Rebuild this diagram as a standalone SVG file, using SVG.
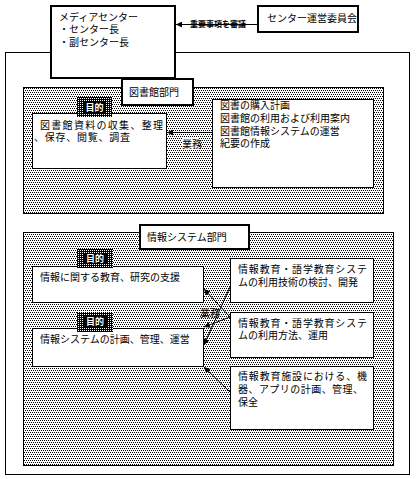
<svg xmlns="http://www.w3.org/2000/svg" width="416" height="479" viewBox="0 0 416 479">
<defs>
<pattern id="dots" width="4" height="4" patternUnits="userSpaceOnUse">
<rect width="4" height="4" fill="#fff"/>
<rect x="0" y="0" width="1" height="1" fill="#000"/>
<rect x="2" y="0" width="1" height="1" fill="#000"/>
<rect x="1" y="2" width="1" height="1" fill="#000"/>
<rect x="3" y="2" width="1" height="1" fill="#000"/>
</pattern>
<pattern id="darkdots" width="2" height="2" patternUnits="userSpaceOnUse">
<rect width="2" height="2" fill="#000"/>
<rect x="0" y="0" width="1" height="1" fill="#fff"/>
</pattern>
<marker id="arr" viewBox="0 0 10 10" refX="10" refY="5" markerWidth="7" markerHeight="6" markerUnits="userSpaceOnUse" orient="auto">
<path d="M0,0 L10,5 L0,10 z" fill="#000"/>
</marker>
</defs>
<style>
text{font-family:"Noto Sans CJK JP","Noto Sans",sans-serif;font-size:10px;fill:#000}
.thick{fill:#fff;stroke:#000;stroke-width:2}
.box{fill:#fff;stroke:#000;stroke-width:1}
.dept{fill:url(#dots);stroke:#000;stroke-width:1}
.frame{fill:#fff;stroke:#000;stroke-width:1}
.tag{fill:url(#darkdots)}
.tagin{fill:#000}
.tagtxt{fill:#fff;font-size:9px;font-weight:bold}
.line{stroke:#000;stroke-width:1;fill:none}
.small{font-size:8px;font-weight:bold}
</style>
<g id="outer-frame"><rect class="frame" x="5.5" y="52.5" width="404" height="422"/></g>
<g id="media-center">
<rect class="thick" x="51" y="6" width="124" height="72"/>
<text x="59" y="21">メディアセンター</text>
<text x="59" y="33">・センター長</text>
<text x="59" y="45.5">・副センター長</text>
</g>
<g id="committee">
<rect class="thick" x="258" y="6" width="100" height="26"/>
<text x="267" y="22">センター運営委員会</text>
</g>
<g id="library-dept">
<rect class="dept" x="23.5" y="87.5" width="360" height="126"/>
</g>
<g id="library-label">
<rect class="thick" x="122" y="79" width="71" height="26"/>
<text x="129" y="96">図書館部門</text>
</g>
<g id="library-purpose">
<rect class="box" x="32.5" y="113.5" width="134" height="55"/>
<text x="40" y="129" textLength="123" lengthAdjust="spacing">図書館資料の収集、整理</text>
<text x="34" y="141" textLength="96" lengthAdjust="spacing">、保存、閲覧、調査</text>
</g>
<g id="library-purpose-tag">
<rect class="tag" x="77" y="97" width="35" height="20"/>
<rect class="tagin" x="83" y="102" width="23" height="11"/>
<text class="tagtxt" x="94.5" y="111" text-anchor="middle">目的</text>
</g>
<g id="library-tasks">
<rect class="box" x="212.5" y="99.5" width="161" height="88"/>
<text x="220" y="109">図書の購入計画</text>
<text x="220" y="122">図書館の利用および利用案内</text>
<text x="220" y="135">図書館情報システムの運営</text>
<text x="220" y="147">紀要の作成</text>
</g>
<g id="info-dept">
<rect class="dept" x="23.5" y="232.5" width="370" height="233"/>
</g>
<g id="info-label">
<rect class="thick" x="140" y="225" width="109" height="24"/>
<text x="147" y="241">情報システム部門</text>
</g>
<g id="info-purpose-1">
<rect class="box" x="32.5" y="266.5" width="171" height="36"/>
<text x="40" y="281">情報に関する教育、研究の支援</text>
</g>
<g id="info-purpose-1-tag">
<rect class="tag" x="77" y="249" width="36" height="19"/>
<rect class="tagin" x="83" y="253" width="24" height="11"/>
<text class="tagtxt" x="95" y="262" text-anchor="middle">目的</text>
</g>
<g id="info-purpose-2">
<rect class="box" x="32.5" y="328.5" width="171" height="38"/>
<text x="40" y="343">情報システムの計画、管理、運営</text>
</g>
<g id="info-purpose-2-tag">
<rect class="tag" x="77" y="312" width="36" height="20"/>
<rect class="tagin" x="83" y="316" width="24" height="11"/>
<text class="tagtxt" x="95" y="325" text-anchor="middle">目的</text>
</g>
<g id="info-task-1">
<rect class="box" x="230.5" y="258.5" width="143" height="44"/>
<text x="238" y="273" textLength="129" lengthAdjust="spacing">情報教育・語学教育システ</text>
<text x="238" y="286">ムの利用技術の検討、開発</text>
</g>
<g id="info-task-2">
<rect class="box" x="230.5" y="312.5" width="143" height="45"/>
<text x="238" y="327" textLength="129" lengthAdjust="spacing">情報教育・語学教育システ</text>
<text x="238" y="339">ムの利用方法、運用</text>
</g>
<g id="info-task-3">
<rect class="box" x="230.5" y="366.5" width="143" height="63"/>
<text x="238" y="380" textLength="129" lengthAdjust="spacing">情報教育施設における、機</text>
<text x="238" y="393" textLength="125" lengthAdjust="spacing">器、アプリの計画、管理、</text>
<text x="238" y="406">保全</text>
</g>
<g id="connectors">
<line class="line" x1="257" y1="24.5" x2="176" y2="24.5" marker-end="url(#arr)"/>
<text class="small" x="190" y="27">重要事項を審議</text>
<line class="line" x1="212" y1="132.5" x2="167" y2="132.5" marker-end="url(#arr)"/>
<rect x="182" y="138" width="17" height="12" fill="#fff"/>
<text x="182" y="148" font-size="9">業務</text>
<line class="line" x1="230" y1="287" x2="204" y2="345" marker-end="url(#arr)"/>
<line class="line" x1="230" y1="317" x2="204" y2="289" marker-end="url(#arr)"/>
<line class="line" x1="230" y1="317" x2="204" y2="327" marker-end="url(#arr)"/>
<line class="line" x1="230" y1="392" x2="204" y2="367" marker-end="url(#arr)"/>
<text x="200" y="317" font-size="9">業務</text>
</g>
</svg>
